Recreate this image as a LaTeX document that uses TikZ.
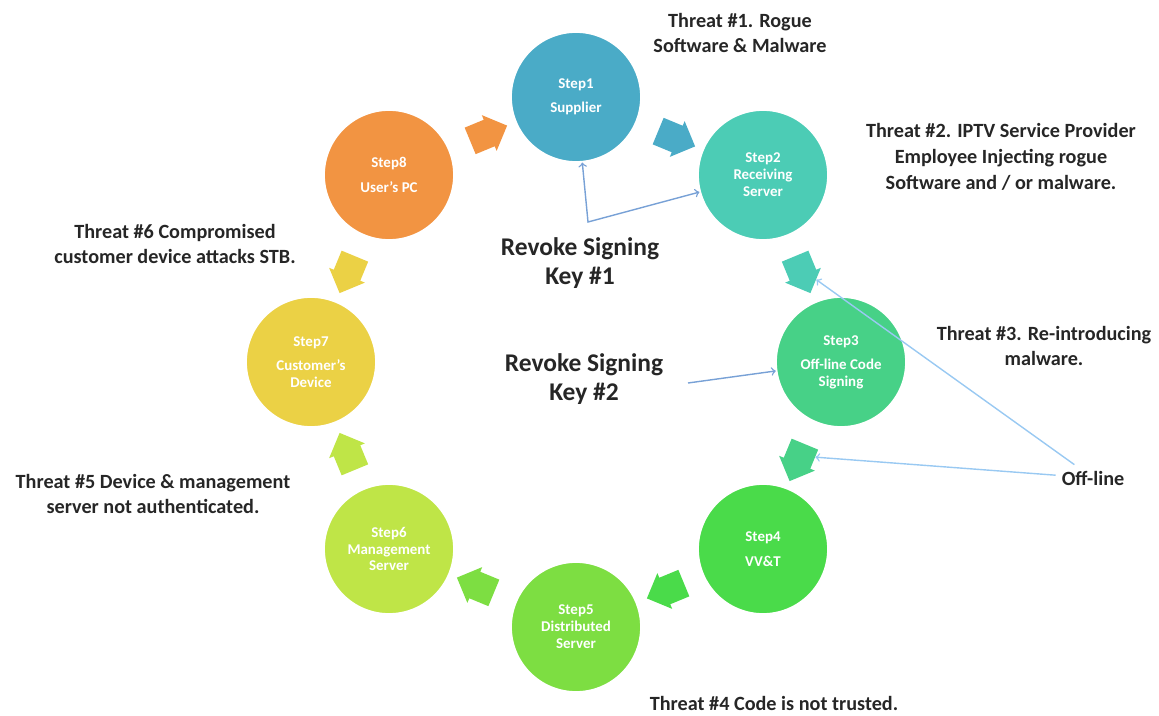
\documentclass[tikz,border=0pt]{standalone}
\usepackage{fontspec}
\setmainfont{Carlito}
\usetikzlibrary{shapes}
\usetikzlibrary{arrows}
\definecolor{supplier}{rgb}{0.29,0.67,0.78}
\definecolor{receiving}{rgb}{0.30,0.80,0.71}
\definecolor{signing}{rgb}{0.28,0.82,0.53}
\definecolor{vvt}{rgb}{0.29,0.86,0.29}
\definecolor{distributed}{rgb}{0.49,0.87,0.26}
\definecolor{management}{rgb}{0.75,0.90,0.28}
\definecolor{customer}{rgb}{0.92,0.82,0.27}
\definecolor{userpc}{rgb}{0.95,0.58,0.26}
\definecolor{revokeblue}{rgb}{0.47,0.63,0.84}
\definecolor{offblue}{rgb}{0.60,0.79,0.95}

\begin{document}
\begin{tikzpicture}
    [x=0.02cm, y=-0.02cm,
    stepnode/.style={circle, draw=white, line width=1pt, minimum size=2.6cm, inner sep=1pt, text=white, align=center, font=\fontsize{8.5}{9.6}\selectfont\bfseries},
    flow/.style={single arrow, minimum height=0.8cm, inner xsep=0pt, inner ysep=0.28cm, single arrow head extend=0.1cm},
    threat/.style={align=center, text=black!85, font=\fontsize{11.5}{14.7}\selectfont\bfseries},
    revoke/.style={align=center, text=black!85, font=\fontsize{14.5}{17}\selectfont\bfseries},
    revokeline/.style={->, thick, draw=revokeblue},
    offline/.style={->, thick, draw=offblue}]
    \useasboundingbox (0,0) rectangle (1159,716);
    %\draw[step=100,gray,very thin] (0,0) grid (1159,716);
    \node[stepnode, fill=supplier]    (s1) at (576,97)  {Step1\\[4pt]Supplier};
    \node[stepnode, fill=receiving]   (s2) at (763,175) {Step2\\Receiving\\Server};
    \node[stepnode, fill=signing]     (s3) at (841,362) {Step3\\[4pt]Off-line Code\\Signing};
    \node[stepnode, fill=vvt]         (s4) at (763,549) {Step4\\[5pt]VV\&T};
    \node[stepnode, fill=distributed] (s5) at (576,627) {Step5\\Distributed\\Server};
    \node[stepnode, fill=management]  (s6) at (389,549) {Step6\\Management\\Server};
    \node[stepnode, fill=customer]    (s7) at (311,362) {Step7\\[4pt]Customer's\\Device};
    \node[stepnode, fill=userpc]      (s8) at (389,175) {Step8\\[5pt]User's PC};
    \node[flow, fill=userpc, rotate=22.5]        (a81) at (482,136) {};
    \node[flow, fill=supplier, rotate=-22.5]     (a12) at (670,136) {};
    \node[flow, fill=receiving, rotate=-67.5]    (a23) at (800,268) {};
    \node[flow, fill=signing, rotate=-112.5]     (a34) at (800,456) {};
    \node[flow, fill=vvt, rotate=-157.5]         (a45) at (672,588) {};
    \node[flow, fill=distributed, rotate=157.5]  (a56) at (482,588) {};
    \node[flow, fill=management, rotate=112.5]   (a67) at (350,458) {};
    \node[flow, fill=customer, rotate=-112.5]    (a87) at (350,268) {};
    \node[threat] (t1) at (740,33)   {Threat \#1. Rogue\\Software \& Malware};
    \node[threat] (t2) at (1001,157) {Threat \#2. IPTV Service Provider\\Employee Injecting rogue\\Software and / or malware.};
    \node[threat] (t3) at (1044,346) {Threat \#3. Re-introducing\\malware.};
    \node[threat] (t4) at (774,703)  {Threat \#4 Code is not trusted.};
    \node[threat] (t5) at (153,494)  {Threat \#5 Device \& management\\server not authenticated.};
    \node[threat] (t6) at (175,244)  {Threat \#6 Compromised\\customer device attacks STB.};
    \node[threat] (off) at (1093,478) {Off-line};
    \node[revoke] (rk1) at (580,263) {Revoke Signing\\Key \#1};
    \node[revoke] (rk2) at (584,379) {Revoke Signing\\Key \#2};
    \coordinate (c1) at (588,222);
    \coordinate (k2) at (688,383);
    \draw[revokeline, <->] (s1) -- (c1) -- (s2);
    \draw[revokeline] (k2) -- (s3);
    \draw[offline] (off) -- (a23);
    \draw[offline] (off) -- (a34);
\end{tikzpicture}
\end{document}
